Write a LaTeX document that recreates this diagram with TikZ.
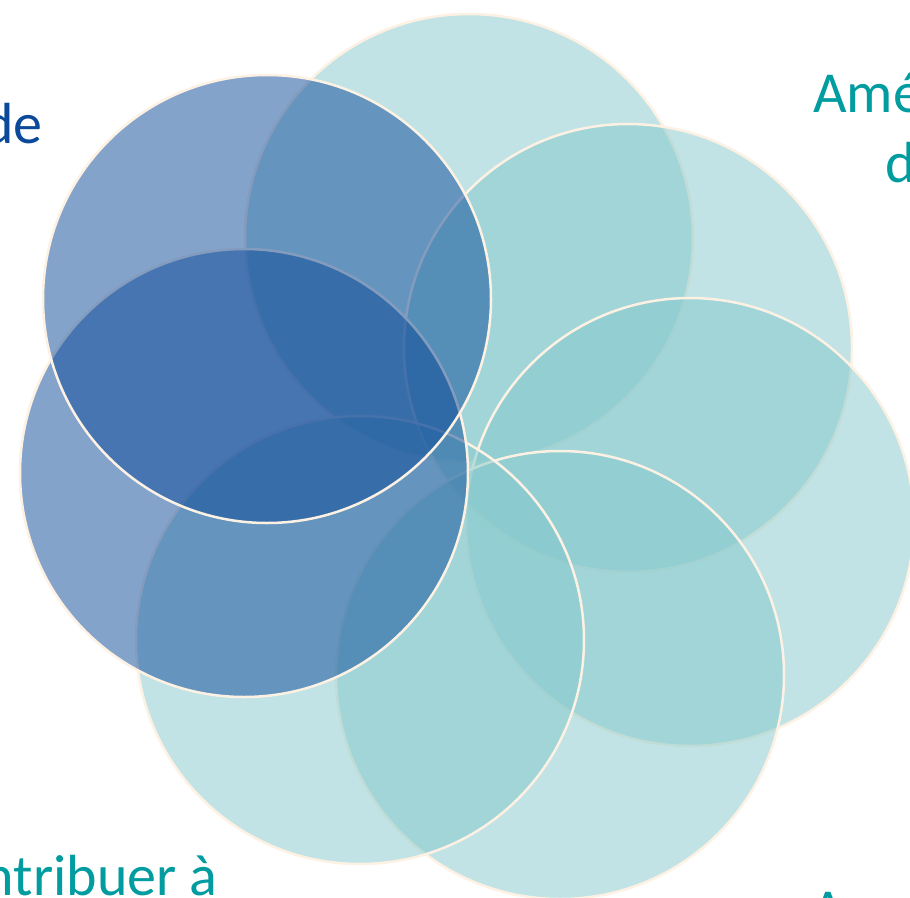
\documentclass[tikz,border=0pt]{standalone}
\usepackage{fontspec}
\setmainfont{Carlito}
\definecolor{tealfill}{RGB}{133,201,205}
\definecolor{bluefill}{RGB}{10,72,152}
\definecolor{rimcol}{RGB}{253,241,227}
\definecolor{tealtext}{RGB}{0,156,160}
\definecolor{bluetext}{RGB}{11,74,154}
\tikzset{
  tealcirc/.style={fill=tealfill, fill opacity=0.5, draw=rimcol, line width=2.5pt},
  bluecirc/.style={fill=bluefill, fill opacity=0.5, draw=rimcol, line width=2.5pt},
  lbl/.style={inner sep=0pt, font=\fontsize{58}{70}\selectfont},
}
\begin{document}
\begin{tikzpicture}[x=1pt,y=-1pt]
\useasboundingbox (0,0) rectangle (910,897);
\fill[white] (0,0) rectangle (910,897);
\path[tealcirc] (469,238) circle[radius=224pt];
\path[tealcirc] (628,348) circle[radius=224pt];
\path[tealcirc] (690,522) circle[radius=224pt];
\path[tealcirc] (560,675) circle[radius=224pt];
\path[tealcirc] (360,640) circle[radius=224pt];
\path[bluecirc] (244,473) circle[radius=224pt];
\path[bluecirc] (267,299) circle[radius=224pt];
\node[lbl, text=bluetext, anchor=base east] (t1) at (43,143) {de};
\node[lbl, text=tealtext, anchor=base west] (t2) at (813,112) {Amé};
\node[lbl, text=tealtext, anchor=base west] (t3) at (885,182) {d};
\node[lbl, text=tealtext, anchor=base east] (t4) at (218,895) {ntribuer à};
\node[lbl, text=tealtext, anchor=base west] (t5) at (811,929) {A};
\end{tikzpicture}
\end{document}
